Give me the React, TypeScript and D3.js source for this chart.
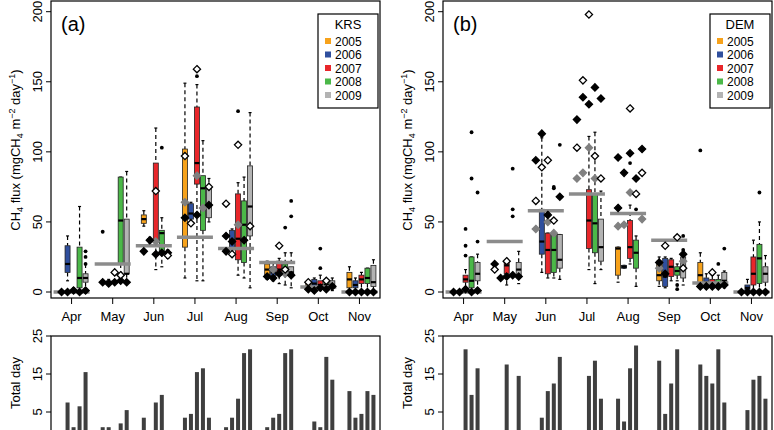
import * as d3 from "d3";

const months = ["Apr", "May", "Jun", "Jul", "Aug", "Sep", "Oct", "Nov"];
const years = ["2005", "2006", "2007", "2008", "2009"];
const yearColors = ["#f7a21b", "#2f4f9e", "#e8262a", "#4bb848", "#b3b3b3"];

// [month, year index, low whisker, q1, median, q3, high whisker]
const boxesA = [
  [0, 1, 8, 14, 20, 33, 40], [0, 2, 0, 0.5, 1, 2, 3], [0, 3, 0, 3, 10, 32, 61], [0, 4, 2, 7, 10, 13, 20],
  [1, 1, 6, 6, 7, 8, 9], [1, 3, 7, 20, 51, 82, 82], [1, 4, 8, 13, 13, 52, 86],
  [2, 0, 47, 49, 52, 55, 58], [2, 1, 35, 36, 37, 38, 39], [2, 2, 16, 36, 72, 92, 117], [2, 3, 18, 28, 42, 44, 53], [2, 4, 24, 26, 27, 28, 30],
  [3, 0, 10, 32, 53, 102, 149], [3, 1, 48, 52, 56, 63, 64], [3, 2, 8, 77, 92, 132, 148], [3, 3, 8, 44, 74, 83, 108], [3, 4, 50, 53, 62, 75, 81],
  [4, 1, 26, 30, 37, 44, 45], [4, 2, 12, 23, 38, 70, 78], [4, 3, 10, 21, 48, 65, 82], [4, 4, 3, 40, 61, 90, 128],
  [5, 0, 9, 12, 16, 20, 22], [5, 1, 8, 11, 14, 18, 21], [5, 2, 6, 12, 16, 22, 24], [5, 3, 5, 13, 16, 20, 28], [5, 4, 3, 12, 14, 18, 28],
  [6, 0, 1, 2, 4, 6, 8], [6, 1, 1, 3, 6, 9, 10], [6, 2, 1, 3, 5, 8, 12], [6, 3, 1, 3, 5, 7, 9], [6, 4, 1, 3, 5, 8, 10],
  [7, 0, 0, 3, 9, 14, 18], [7, 1, 0, 3, 5, 8, 10], [7, 2, 0, 6, 9, 12, 14], [7, 3, 0, 6, 10, 17, 17], [7, 4, 0, 4, 7, 19, 23],
];
const boxesB = [
  [0, 2, 2, 7, 9, 12, 16], [0, 3, 0, 3, 8, 25, 25], [0, 4, 1, 8, 13, 21, 27],
  [1, 2, 5, 13, 19, 22, 22], [1, 4, 6, 11, 16, 21, 29],
  [2, 1, 14, 27, 36, 59, 110], [2, 2, 10, 13, 30, 42, 42], [2, 3, 10, 14, 30, 42, 42], [2, 4, 9, 17, 23, 41, 41],
  [3, 2, 16, 31, 51, 73, 111], [3, 3, 6, 28, 49, 70, 114], [3, 4, 16, 22, 32, 52, 72],
  [4, 0, 7, 12, 31, 32, 32], [4, 1, 17, 17, 18, 19, 19], [4, 2, 20, 24, 32, 51, 62], [4, 3, 4, 17, 28, 37, 40],
  [5, 0, 4, 8, 12, 22, 25], [5, 1, 3, 4, 11, 24, 25], [5, 2, 8, 11, 18, 23, 24], [5, 3, 8, 12, 15, 18, 20], [5, 4, 5, 10, 17, 25, 27],
  [6, 0, 4, 6, 12, 21, 28], [6, 1, 3, 5, 7, 10, 13], [6, 2, 3, 4, 6, 9, 12], [6, 3, 3, 4, 6, 9, 12], [6, 4, 3, 5, 8, 14, 15],
  [7, 1, 0, 1, 3, 5, 9], [7, 2, 0, 5, 13, 25, 37], [7, 3, 0, 6, 24, 34, 50], [7, 4, 1, 7, 13, 18, 26],
];

// monthly mean (grey bars)
const meanA = [0, 20, 33, 39, 31, 21, 3.5, 0];
const meanB = [0, 36, 58, 70, 56, 37, 6.5, 0];

// [month, year index, value]
const outliersA = [
  [0, 4, 25], [0, 4, 29], [0, 4, 20], [1, 0, 43], [2, 3, 103], [3, 2, 154], [4, 2, 129], [5, 3, 46], [5, 4, 54], [5, 4, 65],
  [6, 2, 31], [6, 2, 17], [6, 0, 3],
];
const outliersB = [
  [0, 2, 45], [0, 2, 33], [0, 2, 26], [0, 3, 114], [0, 3, 81], [0, 4, 71], [0, 4, 36], [1, 3, 88], [1, 3, 59], [1, 3, 54],
  [2, 3, 75], [2, 3, 74], [2, 4, 105], [4, 2, 92], [4, 3, 59], [5, 4, 40], [5, 4, 30], [5, 3, 5], [5, 3, 2], [6, 0, 101],
  [6, 3, 20], [6, 4, 31], [7, 3, 71],
];
const blackDiaA = [
  [0, 0, 0], [0, 1, 0], [0, 2, 1], [0, 3, 0], [0, 4, 1],
  [1, 0, 7], [1, 1, 6], [1, 2, 7], [1, 3, 8], [1, 4, 7], [2, 0, 29], [2, 1, 37], [2, 2, 27], [2, 3, 28], [2, 4, 28],
  [3, 0, 53], [3, 2, 55], [3, 4, 62], [4, 0, 40], [4, 0, 29], [4, 1, 36], [4, 3, 37], [5, 0, 11], [5, 1, 10], [5, 2, 13], [5, 4, 12],
  [6, 0, 2], [6, 1, 1], [6, 2, 3], [6, 3, 2], [6, 4, 4], [7, 0, 0], [7, 1, 0], [7, 2, 0], [7, 3, 0], [7, 4, 0],
];
const openDiaA = [
  [1, 2, 14], [1, 3, 12], [2, 2, 72], [2, 4, 26], [3, 0, 97], [3, 1, 49], [3, 2, 159], [3, 4, 75],
  [4, 0, 63], [4, 1, 27], [4, 2, 105], [4, 4, 47], [5, 2, 33], [5, 3, 16], [6, 0, 7], [6, 3, 8],
];
const greyDiaA = [[2, 2, 36], [3, 0, 64], [3, 2, 83], [3, 3, 60], [4, 2, 48], [4, 4, 47], [5, 1, 16], [5, 3, 13]];
const blackDiaB = [
  [0, 0, 0], [0, 1, 0], [0, 2, 2], [0, 3, 0], [0, 4, 1],
  [1, 0, 20], [1, 1, 10], [1, 2, 11], [1, 3, 12], [1, 4, 11], [2, 0, 94], [2, 1, 113], [2, 2, 55], [2, 4, 68],
  [3, 0, 123], [3, 1, 139], [3, 2, 134], [3, 3, 146], [3, 4, 138], [4, 0, 60], [4, 0, 96], [4, 1, 85], [4, 2, 99], [4, 3, 81], [4, 4, 102],
  [5, 0, 21], [5, 1, 13], [5, 4, 27], [6, 0, 4], [6, 1, 4], [6, 2, 4], [6, 3, 4], [6, 4, 5],
  [7, 0, 0], [7, 1, 0], [7, 2, 0], [7, 3, 0], [7, 4, 0],
];
const openDiaB = [
  [1, 0, 16], [1, 2, 22], [2, 0, 65], [2, 1, 89], [2, 2, 94], [2, 3, 51], [3, 0, 103], [3, 1, 151], [3, 2, 198], [3, 3, 97], [3, 4, 81],
  [4, 2, 131], [4, 3, 70], [4, 4, 85], [5, 1, 33], [5, 3, 39], [5, 4, 17], [6, 2, 14],
];
const greyDiaB = [
  [2, 0, 45], [2, 2, 50], [2, 3, 42], [3, 0, 81], [3, 1, 85], [3, 2, 103], [3, 3, 81],
  [4, 0, 47], [4, 1, 48], [4, 2, 71], [4, 4, 52], [5, 0, 17], [5, 4, 22],
];

// total observation days, per month x year (2005..2009)
const daysA = [
  [0, 7.5, 1, 6.5, 15.5], [1, 1, 0, 2, 5.5], [3.5, 0, 7.5, 9.5, 0], [3.5, 4.5, 15.5, 16.5, 3.5],
  [1, 3.5, 8.5, 20.5, 21.5], [1, 3.5, 4.5, 20.5, 21.5], [0, 2.5, 1, 19.5, 13.5], [10.5, 3.5, 4.5, 10.5, 9.5],
];
const daysB = [
  [0, 0, 21.5, 9.5, 16.5], [0, 0, 17.5, 0, 14.5], [0, 3.5, 10.5, 12.5, 19.5], [0, 0, 14.5, 18.5, 8.5],
  [8.5, 2.5, 16.5, 22.5, 0], [18.5, 4.5, 12.5, 21.5, 0], [17.5, 14.5, 12.5, 21.5, 7.5], [0, 5.5, 13.5, 14.5, 8.5],
];

const FONT = "Liberation Sans, Arial, sans-serif";

function Diamond({ x, y, fill, stroke }: { x: number; y: number; fill: string; stroke: string }) {
  const s = 3.6;
  return <path d={`M${x},${y - s}L${x + s},${y}L${x},${y + s}L${x - s},${y}Z`} fill={fill} stroke={stroke} strokeWidth={1.3} />;
}

function Panel(props: {
  left: number; label: string; site: string; boxes: number[][]; mean: number[]; outliers: number[][];
  black: number[][]; open: number[][]; grey: number[][]; days: number[][];
}) {
  const { left, label, site, boxes, mean, outliers, black, open, grey, days } = props;
  const right = left + 329;
  const x = d3.scaleLinear().domain([0, 8]).range([left, right]);
  const y = d3.scaleLinear().domain([0, 200]).range([292, 11.7]);
  const yd = d3.scaleLinear().domain([0, 25]).range([431, 336]);
  const sx = (m: number, yi: number) => x(m + 0.5) + 2 + (yi - 2) * 6;
  const bw = 5;
  return (
    <g fontFamily={FONT}>
      {boxes.map((b, i) => {
        const cx = sx(b[0], b[1]);
        return (
          <g key={"b" + i}>
            <line x1={cx} x2={cx} y1={y(b[6])} y2={y(b[5])} stroke="#000" strokeDasharray="4,3" strokeWidth={1.2} />
            <line x1={cx} x2={cx} y1={y(b[3])} y2={y(b[2])} stroke="#000" strokeDasharray="4,3" strokeWidth={1.2} />
            <line x1={cx - 1.5} x2={cx + 1.5} y1={y(b[6])} y2={y(b[6])} stroke="#000" strokeWidth={1.2} />
            <line x1={cx - 1.5} x2={cx + 1.5} y1={y(b[2])} y2={y(b[2])} stroke="#000" strokeWidth={1.2} />
            <rect x={cx - bw / 2} y={y(b[5])} width={bw} height={Math.max(1, y(b[3]) - y(b[5]))} fill={yearColors[b[1]]} stroke="#222" strokeWidth={0.8} />
            <line x1={cx - bw / 2} x2={cx + bw / 2} y1={y(b[4])} y2={y(b[4])} stroke="#000" strokeWidth={2.2} />
          </g>
        );
      })}
      {mean.map((v, m) => (
        <line key={"m" + m} x1={x(m + 0.5) - 18} x2={x(m + 0.5) + 18} y1={y(v)} y2={y(v)} stroke="#8c8c8c" strokeWidth={3.5} />
      ))}
      {outliers.map((o, i) => <circle key={"o" + i} cx={sx(o[0], o[1])} cy={y(o[2])} r={1.9} fill="#000" />)}
      {grey.map((o, i) => <Diamond key={"g" + i} x={sx(o[0], o[1])} y={y(o[2])} fill="#808080" stroke="#808080" />)}
      {black.map((o, i) => <Diamond key={"k" + i} x={sx(o[0], o[1])} y={y(o[2])} fill="#000" stroke="#000" />)}
      {open.map((o, i) => <Diamond key={"w" + i} x={sx(o[0], o[1])} y={y(o[2])} fill="#fff" stroke="#000" />)}
      <rect x={left} y={1} width={right - left} height={297} fill="none" stroke="#000" strokeWidth={1.2} />
      {[0, 50, 100, 150, 200].map((t) => (
        <g key={"yt" + t}>
          <line x1={left - 5} x2={left} y1={y(t)} y2={y(t)} stroke="#000" />
          <text transform={`translate(${left - 9},${y(t)}) rotate(-90)`} textAnchor="middle" fontSize={13}>{t}</text>
        </g>
      ))}
      {months.map((mn, m) => (
        <g key={"xt" + m}>
          <line x1={x(m + 0.5)} x2={x(m + 0.5)} y1={298} y2={304} stroke="#000" />
          <text x={x(m + 0.5)} y={321} textAnchor="middle" fontSize={13}>{mn}</text>
        </g>
      ))}
      <text transform={`translate(${left - 31},150) rotate(-90)`} textAnchor="middle" fontSize={13}>
        CH<tspan fontSize={9} dy={3}>4</tspan><tspan dy={-3}> flux (mgCH</tspan><tspan fontSize={9} dy={3}>4</tspan>
        <tspan dy={-3}> m</tspan><tspan fontSize={9} dy={-5}>−2</tspan><tspan dy={5}> day</tspan>
        <tspan fontSize={9} dy={-5}>−1</tspan><tspan dy={5}>)</tspan>
      </text>
      <text x={left + 10} y={31} fontSize={20}>{label}</text>
      <g>
        <rect x={right - 62} y={14} width={60} height={94} fill="#fff" stroke="#000" strokeWidth={1.2} />
        <text x={right - 32} y={29} textAnchor="middle" fontSize={13}>{site}</text>
        {years.map((yr, i) => (
          <g key={yr}>
            <rect x={right - 55} y={38 + i * 13.5} width={6} height={6} fill={yearColors[i]} />
            <text x={right - 45} y={45.5 + i * 13.5} fontSize={12}>{yr}</text>
          </g>
        ))}
      </g>
      {days.map((row, m) =>
        row.map((v, yi) =>
          v > 0 ? <rect key={`d${m}-${yi}`} x={sx(m, yi) - 2} y={yd(v)} width={4} height={yd(0) - yd(v)} fill="#3f3f3f" /> : null
        )
      )}
      <rect x={left} y={336} width={right - left} height={100} fill="none" stroke="#000" strokeWidth={1.2} />
      {[5, 15, 25].map((t) => (
        <g key={"dt" + t}>
          <line x1={left - 5} x2={left} y1={yd(t)} y2={yd(t)} stroke="#000" />
          <text transform={`translate(${left - 9},${yd(t)}) rotate(-90)`} textAnchor="middle" fontSize={13}>{t}</text>
        </g>
      ))}
      <text transform={`translate(${left - 31},383) rotate(-90)`} textAnchor="middle" fontSize={13}>Total day</text>
    </g>
  );
}

export default function App() {
  return (
    <svg width={774} height={430} style={{ position: "absolute", left: 0, top: 0, background: "#fff" }}>
      <Panel left={51} label="(a)" site="KRS" boxes={boxesA} mean={meanA} outliers={outliersA}
        black={blackDiaA} open={openDiaA} grey={greyDiaA} days={daysA} />
      <Panel left={443} label="(b)" site="DEM" boxes={boxesB} mean={meanB} outliers={outliersB}
        black={blackDiaB} open={openDiaB} grey={greyDiaB} days={daysB} />
    </svg>
  );
}
